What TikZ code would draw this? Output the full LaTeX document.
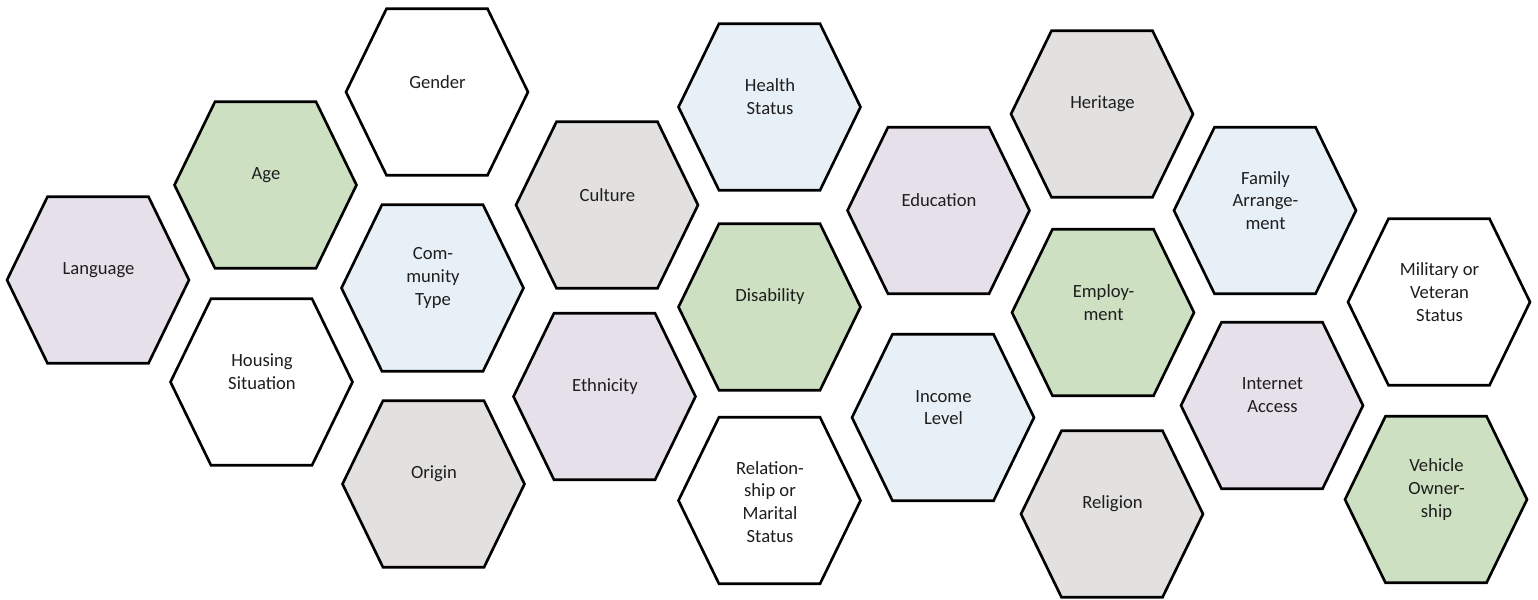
\documentclass[tikz,border=0pt]{standalone}
\usepackage{fontspec}
\setmainfont{Carlito}
\usepackage{tikz}
\usetikzlibrary{positioning}
\usepackage{color}
\definecolor{lilac}{RGB}{230, 224, 234}
\definecolor{sage}{RGB}{205, 224, 193}
\definecolor{frost}{RGB}{232, 240, 247}
\definecolor{ash}{RGB}{226, 225, 224}
\definecolor{ink}{RGB}{30, 30, 30}

\tikzset{
    hexline/.style={draw=black, line width=1.5pt, line join=miter},
    hexlabel/.style={text=ink, align=center, font=\fontsize{10.6}{13}\selectfont, inner sep=0pt}
}

% #1 label shift, #2 name, #3 x, #4 y, #5 fill, #6 text
\newcommand{\hexcell}[6][-10]{%
    \filldraw[hexline, fill=#5] (#3,#4) ++(-91.5,0) -- ++(40.5,-83.3) -- ++(101,0)
        -- ++(40.5,83.3) -- ++(-40.5,83.3) -- ++(-101,0) -- cycle;
    \node[hexlabel] (#2) at (#3,#4+#1) {#6};
}

\begin{document}
\begin{tikzpicture}[x=0.02cm, y=-0.02cm]
            \useasboundingbox (0,0) rectangle (1538,599);
            % first columns
            \hexcell{language}{98.5}{280}{lilac}{Language}
            \hexcell{age}{266}{185}{sage}{Age}
            \hexcell{housing}{262}{382}{white}{Housing\\Situation}
            \hexcell{gender}{437.5}{92}{white}{Gender}
            \hexcell{community}{433}{288}{frost}{Com-\\munity\\Type}
            \hexcell{origin}{434}{484}{ash}{Origin}
            % middle columns
            \hexcell{culture}{607.5}{205}{ash}{Culture}
            \hexcell{ethnicity}{605}{396.5}{lilac}{Ethnicity}
            \hexcell{health}{770}{107}{frost}{Health\\Status}
            \hexcell{disability}{770}{307}{sage}{Disability}
            \hexcell[1.5]{relationship}{770}{500.5}{white}{Relation-\\ship or\\Marital\\Status}
            \hexcell{education}{939}{210.5}{lilac}{Education}
            \hexcell{income}{943.5}{417.5}{frost}{Income\\Level}
            % right columns
            \hexcell{heritage}{1102.5}{114}{ash}{Heritage}
            \hexcell{employment}{1103.5}{312.5}{sage}{Employ-\\ment}
            \hexcell{religion}{1112.5}{514}{ash}{Religion}
            \hexcell{family}{1265.5}{210.5}{frost}{Family\\Arrange-\\ment}
            \hexcell{internet}{1272.5}{405.5}{lilac}{Internet\\Access}
            \hexcell{military}{1439.5}{302}{white}{Military or\\Veteran\\Status}
            \hexcell{vehicle}{1436.5}{499.5}{sage}{Vehicle\\Owner-\\ship}
\end{tikzpicture}
\end{document}
